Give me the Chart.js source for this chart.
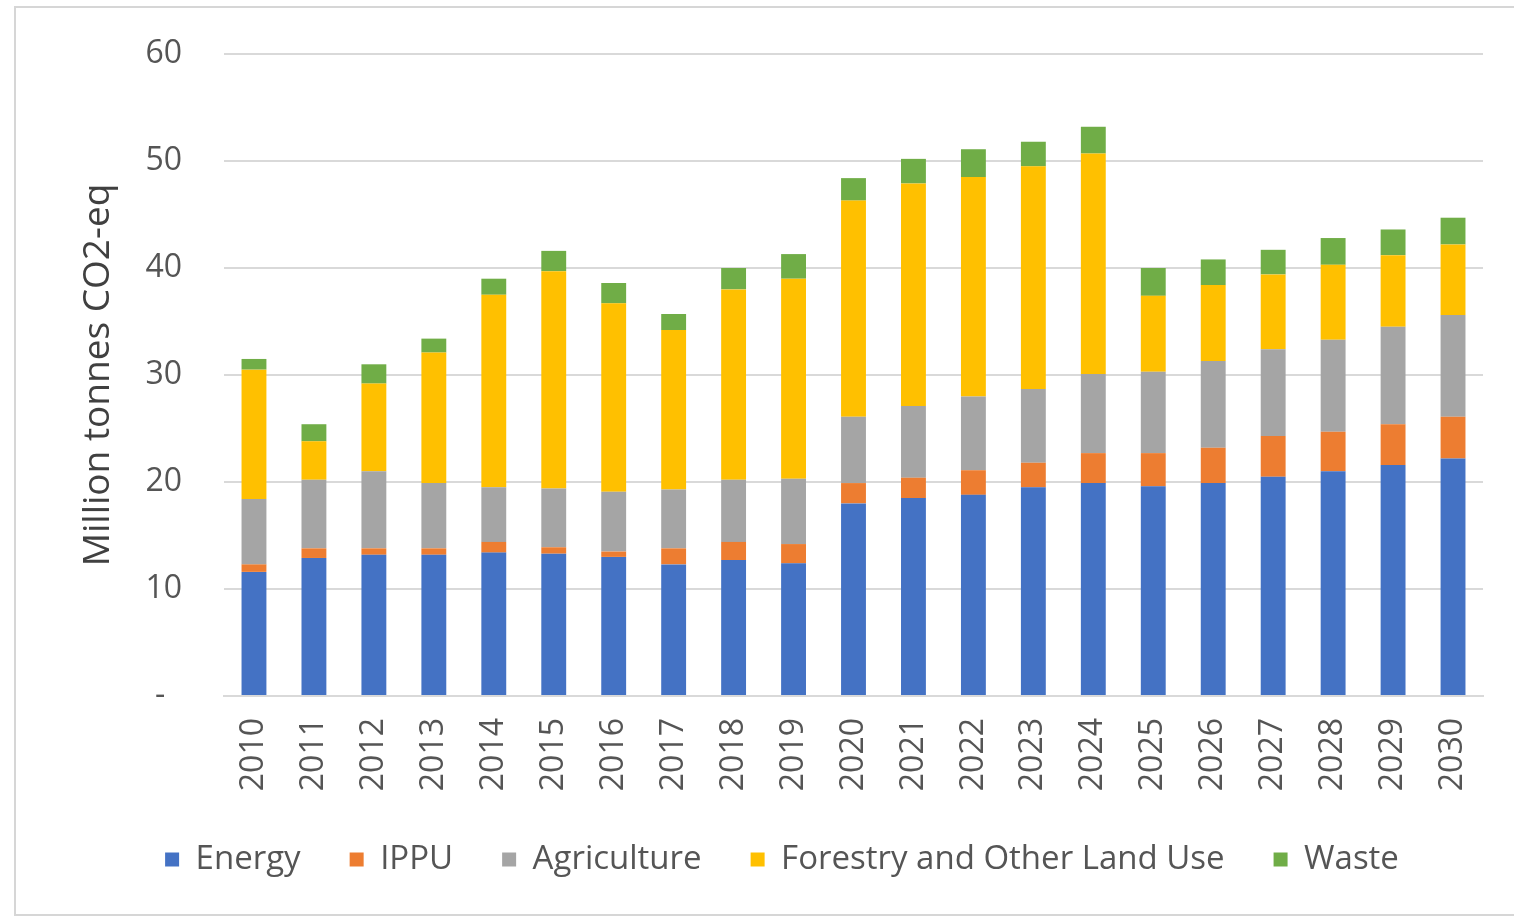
<!DOCTYPE html>
<html>
<head>
<meta charset="utf-8">
<title>Emissions by sector</title>
<script src="https://cdn.jsdelivr.net/npm/chart.js@4/dist/chart.umd.min.js"></script>
<style>
  html, body { margin: 0; padding: 0; background: #ffffff; overflow: hidden; }
  #frame {
    position: absolute; left: 14px; top: 6px; width: 1520px; height: 910px;
    border: 2px solid #d6d6d6; box-sizing: border-box;
  }
  #chart { position: absolute; left: 0; top: 0; }
</style>
</head>
<body>
<div id="frame"></div>
<canvas id="chart" width="1514" height="918"></canvas>
<script>
// Annual greenhouse gas emissions by sector (million tonnes CO2-eq)
const years = ['2010','2011','2012','2013','2014','2015','2016','2017','2018','2019','2020',
               '2021','2022','2023','2024','2025','2026','2027','2028','2029','2030'];
const energy      = [11.6,12.9,13.2,13.2,13.4,13.3,13.0,12.3,12.7,12.4,18.0,18.5,18.8,19.5,19.9,19.6,19.9,20.5,21.0,21.6,22.2];
const ippu        = [0.7,0.9,0.6,0.6,1.0,0.6,0.5,1.5,1.7,1.8,1.9,1.9,2.3,2.3,2.8,3.1,3.3,3.8,3.7,3.8,3.9];
const agriculture = [6.1,6.4,7.2,6.1,5.1,5.5,5.6,5.5,5.8,6.1,6.2,6.7,6.9,6.9,7.4,7.6,8.1,8.1,8.6,9.1,9.5];
const folu        = [12.1,3.6,8.2,12.2,18.0,20.3,17.6,14.9,17.8,18.7,20.2,20.8,20.5,20.8,20.6,7.1,7.1,7.0,7.0,6.7,6.6];
const waste       = [1.0,1.6,1.8,1.3,1.5,1.9,1.9,1.5,2.0,2.3,2.1,2.3,2.6,2.3,2.5,2.6,2.4,2.3,2.5,2.4,2.5];
const yTicks = [0, 10, 20, 30, 40, 50, 60];

const FONT = '"Open Sans", "DejaVu Sans", sans-serif';
const TEXT = '#555555';

function series(label, data, color) {
  return {
    label, data,
    backgroundColor: color,
    borderWidth: 0,
    categoryPercentage: 1.0,
    barPercentage: 0.415
  };
}

new Chart(document.getElementById('chart'), {
  type: 'bar',
  data: {
    labels: years,
    datasets: [
      series('Energy', energy, '#4472C4'),
      series('IPPU', ippu, '#ED7D31'),
      series('Agriculture', agriculture, '#A5A5A5'),
      series('Forestry and Other Land Use', folu, '#FFC000'),
      series('Waste', waste, '#70AD47')
    ]
  },
  options: {
    responsive: false,
    animation: false,
    layout: { padding: { left: 74, right: 24, top: 54, bottom: 32 } },
    plugins: {
      tooltip: { enabled: false },
      legend: {
        position: 'bottom',
        labels: {
          boxWidth: 14,
          boxHeight: 14,
          padding: 49,
          color: TEXT,
          font: { family: FONT, size: 33 }
        }
      }
    },
    scales: {
      x: {
        stacked: true,
        grid: { display: false, drawTicks: false },
        border: { display: true, color: '#d9d9d9', width: 2 },
        ticks: {
          color: TEXT,
          font: { family: FONT, size: 32 },
          minRotation: 90,
          maxRotation: 90,
          padding: 22
        },
        afterFit: s => { s.height = 98; }
      },
      y: {
        stacked: true,
        min: 0,
        max: 60,
        afterBuildTicks: s => { s.ticks = yTicks.map(v => ({ value: v })); },
        grid: { color: '#d9d9d9', lineWidth: 2, drawTicks: false },
        border: { display: false },
        ticks: {
          color: TEXT,
          font: { family: FONT, size: 32 },
          padding: 42,
          callback: v => (v === 0 ? '-  ' : String(v))
        },
        title: {
          display: true,
          text: 'Million tonnes CO2-eq',
          color: '#404040',
          font: { family: FONT, size: 37 },
          padding: { top: 2, bottom: 0 }
        },
        afterFit: s => {
          s.width = 150;
          // the plot's top/bottom are fixed by the layout padding instead
          s.paddingTop = 0;
          s.paddingBottom = 0;
        }
      }
    }
  }
});
</script>
</body>
</html>
